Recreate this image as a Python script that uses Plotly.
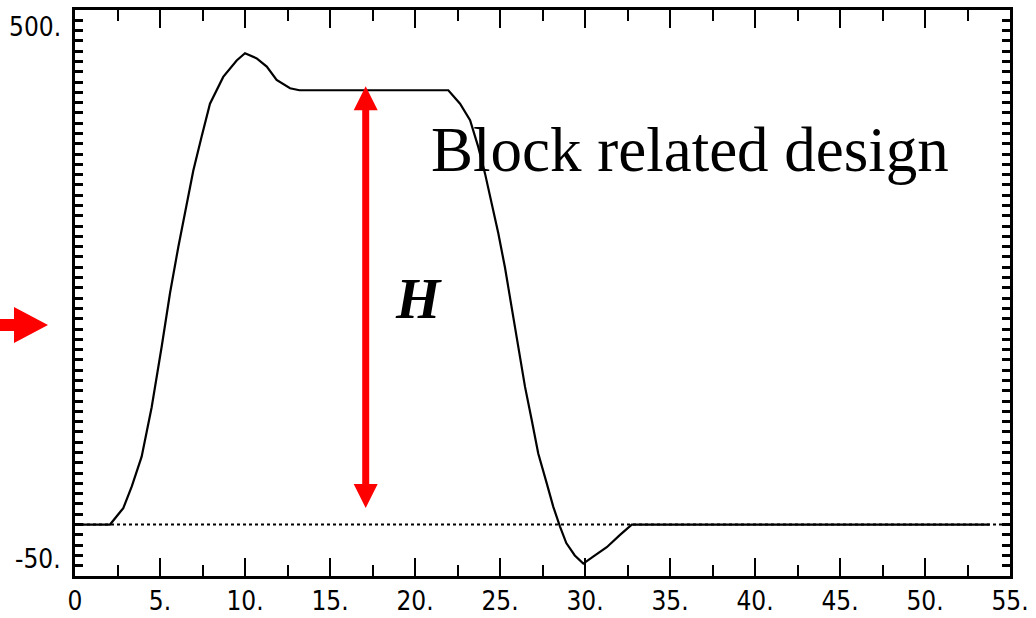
import plotly.graph_objects as go

# Axis extents
X_RANGE = [0, 55]
Y_RANGE = [-50, 500]

# Response curve (time vs. displacement)
curve_x = [0, 2.06, 2.84, 3.34, 3.92, 4.51, 5.10, 5.59, 6.08, 6.57, 6.96, 7.45,
           7.94, 8.72, 9.51, 10.0, 10.69, 11.28, 11.86, 12.65, 13.2, 21.96, 22.65,
           23.24, 23.72, 24.12, 24.51, 24.9, 25.29, 25.69, 26.08, 26.47, 26.86,
           27.25, 27.75, 28.14, 28.53, 28.9, 29.4, 29.9, 30.5, 31.28, 32.06,
           32.75, 53.8]
curve_y = [0, 0, 16, 37, 66, 114, 173, 225, 270, 312, 344, 377,
           409, 435, 451, 458, 453, 445, 432, 424, 422, 422, 409,
           393, 367, 341, 312, 283, 250, 212, 173, 134, 102,
           69, 40, 17, -2, -18, -30, -38, -31, -22, -10,
           0, 0]

# Zero reference line
baseline_x = [0, 55]
baseline_y = [0, 0]

# Tick labels
xtick_vals = [0, 5, 10, 15, 20, 25, 30, 35, 40, 45, 50, 55]
xtick_text = ["0", "5.", "10.", "15.", "20.", "25.", "30.", "35.", "40.", "45.", "50.", "55."]
ytick_vals = [-50, 500]
ytick_text = ["-50.", "500."]

# Height marker H
H_X = 17.1
H_BOTTOM = 16
H_TOP = 426
LEFT_MARK_Y = 194

# Figure geometry
W, HGT = 1036, 618
ML, MR, MT, MB = 75, 26, 10, 42
plot_w = W - ML - MR
plot_h = HGT - MT - MB
px_x = plot_w / (X_RANGE[1] - X_RANGE[0])
px_y = plot_h / (Y_RANGE[1] - Y_RANGE[0])

RED = "#ff0000"
TICK_FONT = dict(family="Liberation Sans Narrow, DejaVu Sans Condensed, Arial Narrow, sans-serif",
                 size=26, color="black")

fig = go.Figure()

fig.add_trace(go.Scatter(
    x=baseline_x, y=baseline_y, mode="lines",
    line=dict(color="black", width=2, dash="dot"),
    hoverinfo="skip", showlegend=False,
))
fig.add_trace(go.Scatter(
    x=curve_x, y=curve_y, mode="lines",
    line=dict(color="black", width=2.2),
    showlegend=False,
))

shapes = []

# Vertical double-headed arrow
head_half_w = 12 / px_x
head_len = 24 / px_y
shapes.append(dict(
    type="line", xref="x", yref="y",
    x0=H_X, x1=H_X, y0=H_BOTTOM + head_len * 0.5, y1=H_TOP - head_len * 0.5,
    line=dict(color=RED, width=7),
))
shapes.append(dict(
    type="path", xref="x", yref="y",
    path=f"M {H_X} {H_TOP} L {H_X - head_half_w} {H_TOP - head_len} "
         f"L {H_X + head_half_w} {H_TOP - head_len} Z",
    fillcolor=RED, line=dict(width=0),
))
shapes.append(dict(
    type="path", xref="x", yref="y",
    path=f"M {H_X} {H_BOTTOM} L {H_X - head_half_w} {H_BOTTOM + head_len} "
         f"L {H_X + head_half_w} {H_BOTTOM + head_len} Z",
    fillcolor=RED, line=dict(width=0),
))


# Left-side pointer arrow (outside the plot area)
def px_to_paper_x(px):
    return (px - ML) / plot_w


sx0, sx1, tip = px_to_paper_x(0), px_to_paper_x(14), px_to_paper_x(48)
shaft_half = 6 / px_y
head_half = 18 / px_y
y0 = LEFT_MARK_Y
shapes.append(dict(
    type="path", xref="paper", yref="y",
    path=(f"M {sx0} {y0 - shaft_half} L {sx1} {y0 - shaft_half} L {sx1} {y0 - head_half} "
          f"L {tip} {y0} L {sx1} {y0 + head_half} L {sx1} {y0 + shaft_half} "
          f"L {sx0} {y0 + shaft_half} Z"),
    fillcolor=RED, line=dict(width=0),
))

annotations = [
    dict(x=36.2, y=364, xref="x", yref="y", text="Block related design",
         showarrow=False, font=dict(family="Liberation Serif, Times New Roman, serif",
                                    size=63, color="black")),
    dict(x=20.2, y=220, xref="x", yref="y", text="<b><i>H</i></b>",
         showarrow=False, font=dict(family="Liberation Serif, Times New Roman, serif",
                                    size=57, color="black")),
]
for val, txt in zip(ytick_vals, ytick_text):
    annotations.append(dict(
        x=0, y=val, xref="paper", yref="y", text=txt, showarrow=False,
        xanchor="right", yanchor="top" if val == max(ytick_vals) else "bottom",
        xshift=-12, font=TICK_FONT,
    ))

fig.update_layout(
    width=W, height=HGT,
    margin=dict(l=ML, r=MR, t=MT, b=MB),
    paper_bgcolor="white", plot_bgcolor="white",
    shapes=shapes, annotations=annotations,
    xaxis=dict(
        range=X_RANGE, tickvals=xtick_vals, ticktext=xtick_text,
        ticks="inside", ticklen=18, tickwidth=2, tickcolor="black",
        minor=dict(dtick=2.5, tick0=0, ticks="inside", ticklen=11,
                   tickwidth=2, tickcolor="black"),
        showline=True, linewidth=3, linecolor="black", mirror="ticks",
        showgrid=False, zeroline=False, tickfont=TICK_FONT,
        ticklabelstandoff=0, automargin=False, fixedrange=True,
    ),
    yaxis=dict(
        range=Y_RANGE, tick0=0, dtick=10,
        ticks="inside", ticklen=8, tickwidth=2.5, tickcolor="black",
        showticklabels=False,
        showline=True, linewidth=2.5, linecolor="black", mirror="ticks",
        showgrid=False, zeroline=False, automargin=False, fixedrange=True,
    ),
)

fig.write_html("out.html")
